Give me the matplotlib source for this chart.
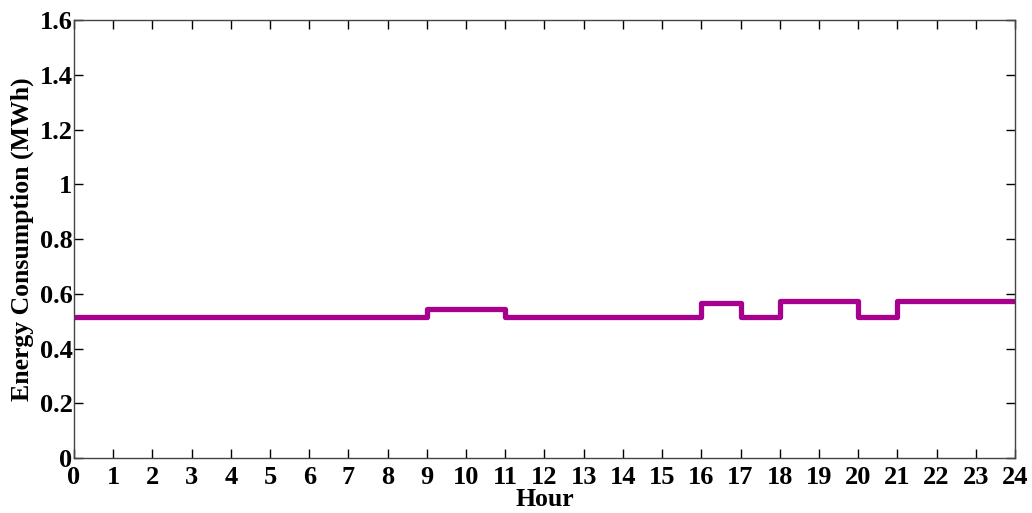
import matplotlib
matplotlib.use("Agg")
import matplotlib.pyplot as plt
import numpy as np

hours = list(range(25))
consumption = [0.515]*9 + [0.543]*2 + [0.515]*5 + [0.567] + [0.515] + [0.572]*2 + [0.515] + [0.573]*3
consumption = consumption + [consumption[-1]]
xticks = list(range(25))
yticks = [0, 0.2, 0.4, 0.6, 0.8, 1, 1.2, 1.4, 1.6]
ytick_labels = ["0", "0.2", "0.4", "0.6", "0.8", "1", "1.2", "1.4", "1.6"]

plt.rcParams['font.family'] = ['Liberation Serif', 'DejaVu Serif']
plt.rcParams['font.weight'] = 'bold'

fig = plt.figure(figsize=(10.32, 5.13), dpi=100)
ax = fig.add_axes([0.0717, 0.1072, 0.9118, 0.8538])
ax.step(hours, consumption, where='post', color='#A8008E', linewidth=3.8, solid_joinstyle='round')
ax.set_xlim(0, 24)
ax.set_ylim(0, 1.6)
ax.set_xticks(xticks)
ax.set_xticklabels([str(h) for h in xticks], fontsize=19, fontweight='bold')
ax.set_yticks(yticks)
ax.set_yticklabels(ytick_labels, fontsize=19, fontweight='bold')
ax.tick_params(direction='in', length=6.5, width=1, top=True, right=True)
ax.tick_params(axis='x', pad=6)
ax.tick_params(axis='y', pad=1)
for s in ax.spines.values():
    s.set_linewidth(1)
    s.set_color('#444444')
ax.set_xlabel('Hour', fontsize=18.5, fontweight='bold', labelpad=-1)
ax.set_ylabel('Energy Consumption (MWh)', fontsize=18.5, fontweight='bold', labelpad=4)
fig.savefig('out.png', dpi=100)
